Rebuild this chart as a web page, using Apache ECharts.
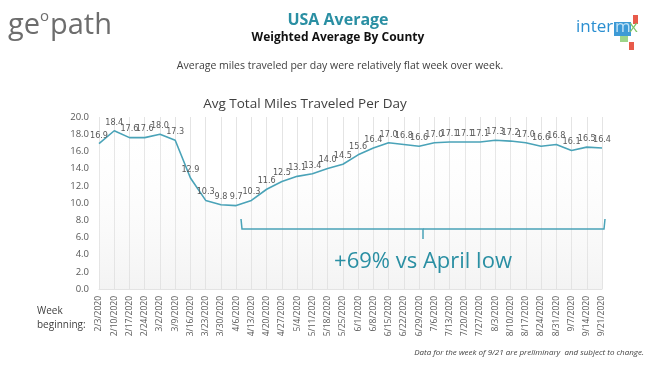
<!DOCTYPE html>
<html><head><meta charset="utf-8">
<script src="https://cdn.jsdelivr.net/npm/echarts@6/dist/echarts.min.js"></script>
<style>html,body{margin:0;padding:0;background:#fff;}#c{width:650px;height:365px;}</style>
</head><body><div id="c"></div>
<script>
var weeks = ['2/3/2020','2/10/2020','2/17/2020','2/24/2020','3/2/2020','3/9/2020','3/16/2020','3/23/2020','3/30/2020','4/6/2020','4/13/2020','4/20/2020','4/27/2020','5/4/2020','5/11/2020','5/18/2020','5/25/2020','6/1/2020','6/8/2020','6/15/2020','6/22/2020','6/29/2020','7/6/2020','7/13/2020','7/20/2020','7/27/2020','8/3/2020','8/10/2020','8/17/2020','8/24/2020','8/31/2020','9/7/2020','9/14/2020','9/21/2020'];
var avgMiles = [16.9,18.4,17.6,17.6,18.0,17.3,12.9,10.3,9.8,9.7,10.3,11.6,12.5,13.1,13.4,14.0,14.5,15.6,16.4,17.0,16.8,16.6,17.0,17.1,17.1,17.1,17.3,17.2,17.0,16.6,16.8,16.1,16.5,16.4];
var yTicks = [0,2,4,6,8,10,12,14,16,18,20];

var FONT = '"Open Sans", "Noto Sans", sans-serif';
var NARROW = '"DejaVu Sans Condensed", "Liberation Sans Narrow", sans-serif';
var teal = '#2a8fa3';
var chart = echarts.init(document.getElementById('c'), null, {renderer:'canvas'});
chart.setOption({
  animation:false,
  backgroundColor:'#ffffff',
  textStyle:{fontFamily:FONT},
  title:[
    {text:'USA Average', left:333, top:7, textAlign:'center', textStyle:{fontFamily:FONT, fontSize:16, fontWeight:'bold', color:teal}},
    {text:'Weighted Average By County', left:333, top:27, textAlign:'center', textStyle:{fontFamily:FONT, fontSize:12, fontWeight:'bold', color:'#111'}},
    {text:'Average miles traveled per day were relatively flat week over week.', left:335, top:56, textAlign:'center', textStyle:{fontFamily:FONT, fontSize:10.5, fontWeight:'normal', color:'#404040'}},
    {text:'Avg Total Miles Traveled Per Day', left:300, top:92, textAlign:'center', textStyle:{fontFamily:FONT, fontSize:13.5, fontWeight:'normal', color:'#404040'}}
  ],
  grid:{left:99, right:48, top:117, bottom:76, containLabel:false},
  xAxis:{
    type:'category', data:weeks, boundaryGap:false,
    axisLine:{show:true, lineStyle:{color:'#e3e3e3'}},
    axisTick:{show:false},
    axisLabel:{rotate:90, fontSize:8.5, color:'#595959', margin:7, interval:0, fontFamily:FONT},
    splitLine:{show:true, lineStyle:{color:'#e4e4e4', width:1}}
  },
  yAxis:{
    type:'value', min:0, max:20, interval:2,
    axisLine:{show:false}, axisTick:{show:false},
    splitLine:{show:false},
    axisLabel:{fontSize:9.5, color:'#595959', margin:10, fontFamily:FONT, formatter:function(v){return v.toFixed(1);}}
  },
  series:[{
    type:'line', data:avgMiles, showSymbol:true, symbol:'circle', symbolSize:2,
    itemStyle:{color:'rgba(0,0,0,0)', borderWidth:0},
    lineStyle:{color:'#4aa3b8', width:1.6},
    areaStyle:{color:new echarts.graphic.LinearGradient(0,0,0,1,[{offset:0,color:'rgba(255,255,255,0.1)'},{offset:1,color:'rgba(225,225,225,0.55)'}])},
    label:{show:true, position:'top', distance:3, fontSize:9, color:'#595959', fontFamily:NARROW, formatter:function(p){return p.value.toFixed(1);}},
    labelLayout:{hideOverlap:false},
    z:3
  }],
  graphic:[
    {type:'text', z:100, left:8, top:11, style:{text:'ge', font:'29px "Open Sans", sans-serif', fill:'#6d6d6d'}},
    {type:'text', z:100, left:40, top:9, style:{text:'o', font:'15px "Open Sans", sans-serif', fill:'#6d6d6d'}},
    {type:'text', z:100, left:50, top:11, style:{text:'path', font:'29px "Open Sans", sans-serif', fill:'#6d6d6d'}},
    {type:'rect', z:100, shape:{x:633, y:15, width:5, height:9}, style:{fill:'#e85a4a'}},
    {type:'rect', z:100, shape:{x:620, y:33, width:8, height:9}, style:{fill:'#9dd58a'}},
    {type:'rect', z:100, shape:{x:629, y:42, width:5, height:8}, style:{fill:'#e85a4a'}},
    {type:'text', z:100, left:576, top:19, style:{text:'inter', font:'17px "Open Sans", sans-serif', fill:'#2b8fd1'}},
    {type:'rect', z:100, shape:{x:614, y:22, width:17, height:14}, style:{fill:'#3d9ad6'}},
    {type:'text', z:101, left:615, top:19, style:{text:'m', font:'17px "Open Sans", sans-serif', fill:'#bfe1f5'}},
    {type:'text', z:101, left:629, top:19, style:{text:'x', font:'17px "Open Sans", sans-serif', fill:'#7cc46a'}},
    {type:'polyline', z:100, shape:{points:[[241,219],[242,229],[423,229],[423,239]]}, style:{stroke:'#4aa3b8', lineWidth:1.5, fill:null}},
    {type:'polyline', z:100, shape:{points:[[423,229],[604,229],[605,219]]}, style:{stroke:'#4aa3b8', lineWidth:1.5, fill:null}},
    {type:'text', z:100, x:423, y:262, style:{text:'+69% vs April low', font:'22px "Open Sans", sans-serif', fill:teal, textAlign:'center', textVerticalAlign:'middle'}},
    {type:'text', z:100, left:37, top:304, style:{text:'Week\nbeginning:', font:'10px "Open Sans", sans-serif', fill:'#404040', lineHeight:14}},
    {type:'text', z:100, right:6, top:349, style:{text:'Data for the week of 9/21 are preliminary  and subject to change.', font:'italic 8px "Open Sans", sans-serif', fill:'#404040'}}
  ]
});
</script></body></html>
